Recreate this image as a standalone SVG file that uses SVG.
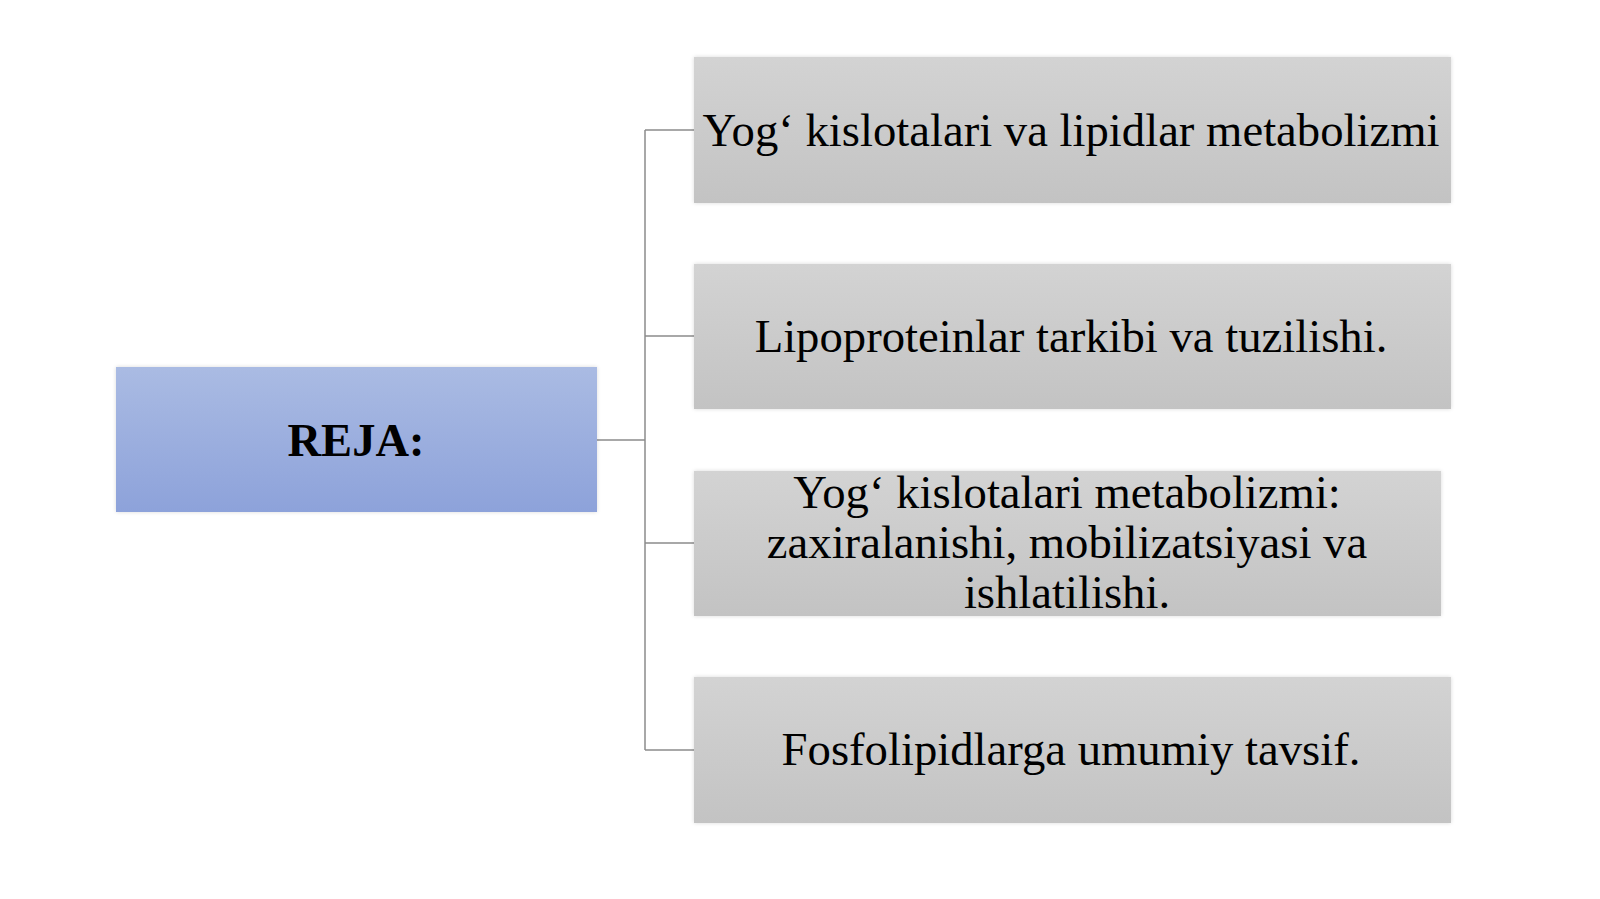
<svg xmlns="http://www.w3.org/2000/svg" width="1600" height="899" viewBox="0 0 1600 899">
<style>
.t{font-family:"Liberation Serif","Times New Roman",serif;font-size:46.7px;fill:#000;text-anchor:middle}
.b{font-weight:bold;font-size:46.5px}
.conn{fill:none;stroke:#8c8c8c;stroke-width:1.5}
</style>
<defs>
<linearGradient id="gb" x1="0" y1="0" x2="0" y2="1">
<stop offset="0" stop-color="#aabbe3"/>
<stop offset="1" stop-color="#8da2da"/>
</linearGradient>
<linearGradient id="gg" x1="0" y1="0" x2="0" y2="1">
<stop offset="0" stop-color="#d3d3d3"/>
<stop offset="1" stop-color="#c3c3c3"/>
</linearGradient>
<filter id="sh" x="-5%" y="-10%" width="110%" height="120%">
<feGaussianBlur in="SourceAlpha" stdDeviation="2"/>
<feComponentTransfer><feFuncA type="linear" slope="0.15"/></feComponentTransfer>
<feMerge><feMergeNode/><feMergeNode in="SourceGraphic"/></feMerge>
</filter>
</defs>
<rect width="1600" height="899" fill="#fff"/>
<g id="connectors">
<path class="conn" d="M597 440 H645 M645 130 V750 M645 130 H694 M645 336 H694 M645 543 H694 M645 750 H694"/>
</g>
<g id="reja">
<rect x="116" y="367" width="481" height="145" fill="url(#gb)" filter="url(#sh)"/>
<text class="t b" x="356" y="456">REJA:</text>
</g>
<g id="item1">
<rect x="694" y="57" width="757" height="146" fill="url(#gg)" filter="url(#sh)"/>
<text class="t" x="1071" y="146">Yog‘ kislotalari va lipidlar metabolizmi</text>
</g>
<g id="item2">
<rect x="694" y="264" width="757" height="145" fill="url(#gg)" filter="url(#sh)"/>
<text class="t" x="1071" y="352">Lipoproteinlar tarkibi va tuzilishi.</text>
</g>
<g id="item3">
<rect x="694" y="471" width="747" height="145" fill="url(#gg)" filter="url(#sh)"/>
<text class="t" x="1067" y="508">Yog‘ kislotalari metabolizmi:</text>
<text class="t" x="1067" y="558">zaxiralanishi, mobilizatsiyasi va</text>
<text class="t" x="1067" y="608">ishlatilishi.</text>
</g>
<g id="item4">
<rect x="694" y="677" width="757" height="146" fill="url(#gg)" filter="url(#sh)"/>
<text class="t" x="1071" y="765">Fosfolipidlarga umumiy tavsif.</text>
</g>
</svg>
